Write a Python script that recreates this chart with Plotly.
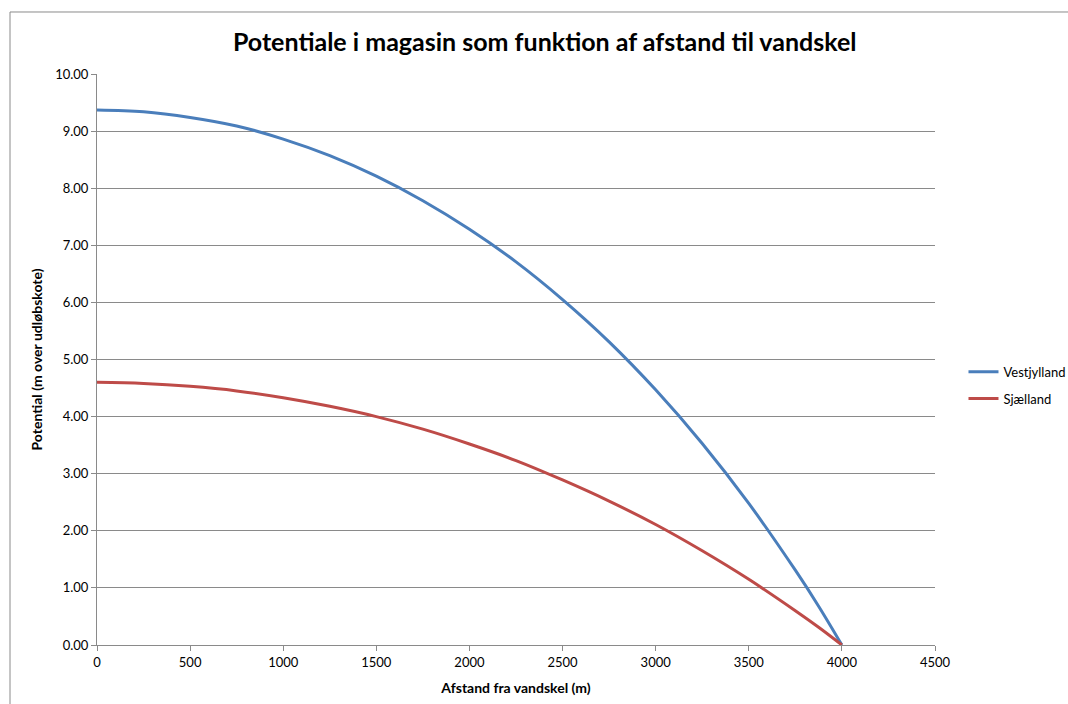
import plotly.graph_objects as go

# Distance from the water divide (m)
afstand = [0, 250, 500, 750, 1000, 1250, 1500, 1750, 2000, 2250, 2500,
           2750, 3000, 3250, 3500, 3750, 3875, 4000]

# Potential above outlet level (m)
vestjylland = [9.37, 9.34, 9.24, 9.09, 8.86, 8.57, 8.21, 7.78, 7.28, 6.71, 6.05,
               5.31, 4.47, 3.53, 2.48, 1.31, 0.68, 0.00]
sjaelland = [4.60, 4.58, 4.53, 4.45, 4.33, 4.18, 4.00, 3.78, 3.52, 3.23, 2.89,
             2.52, 2.11, 1.65, 1.15, 0.60, 0.31, 0.00]

x_ticks = [0, 500, 1000, 1500, 2000, 2500, 3000, 3500, 4000, 4500]
y_ticks = [0, 1, 2, 3, 4, 5, 6, 7, 8, 9, 10]

FONT = "Lato"
GRID = "#8a8a8a"

fig = go.Figure()
fig.add_trace(go.Scatter(x=afstand, y=vestjylland, name="Vestjylland", mode="lines",
                         legendgroup="vj",
                         line=dict(color="#4A7EBB", width=3, shape="spline")))
fig.add_trace(go.Scatter(x=afstand, y=sjaelland, name="Sjælland", mode="lines",
                         legendgroup="sj",
                         line=dict(color="#BE4B48", width=3, shape="spline")))

fig.update_layout(
    width=1068, height=704,
    margin=dict(l=97, r=133, t=74, b=59, autoexpand=False),
    paper_bgcolor="white", plot_bgcolor="white",
    font=dict(family=FONT, size=13, color="black"),
    title=dict(text="<b>Potentiale i magasin som funktion af afstand til vandskel</b>",
               x=0.51, xref="container", xanchor="center",
               y=0.94, yref="container", yanchor="middle",
               font=dict(family=FONT, size=25, color="black")),
    showlegend=True,
    legend=dict(x=1.034, y=0.455, xanchor="left", yanchor="middle",
                font=dict(family=FONT, size=13), itemwidth=30,
                tracegroupgap=7, bgcolor="rgba(0,0,0,0)"),
    xaxis=dict(range=[0, 4500], tickvals=x_ticks, ticktext=[str(v) for v in x_ticks],
               showgrid=False, zeroline=False, showline=True, linecolor=GRID,
               linewidth=1, ticks="outside", ticklen=5, tickcolor=GRID,
               tickfont=dict(family=FONT, size=13),
               title=dict(text="<b>Afstand fra vandskel (m)</b>",
                          font=dict(family=FONT, size=14), standoff=14)),
    yaxis=dict(range=[0, 10], tickvals=y_ticks, tickformat=".2f",
               showgrid=True, gridcolor=GRID, gridwidth=1, zeroline=False,
               showline=True, linecolor=GRID, linewidth=1, ticks="outside",
               ticklen=5, tickcolor=GRID, tickfont=dict(family=FONT, size=13),
               title=dict(text="<b>Potential (m over udløbskote)</b>",
                          font=dict(family=FONT, size=14), standoff=9)),
)

# Chart-area frame
fig.add_shape(type="rect", xref="paper", yref="paper",
              x0=-0.1038, x1=1.3, y0=-0.3, y1=1.1086,
              line=dict(color="#8a8a8a", width=1), fillcolor="rgba(0,0,0,0)",
              layer="below")

fig.write_html("out.html")
